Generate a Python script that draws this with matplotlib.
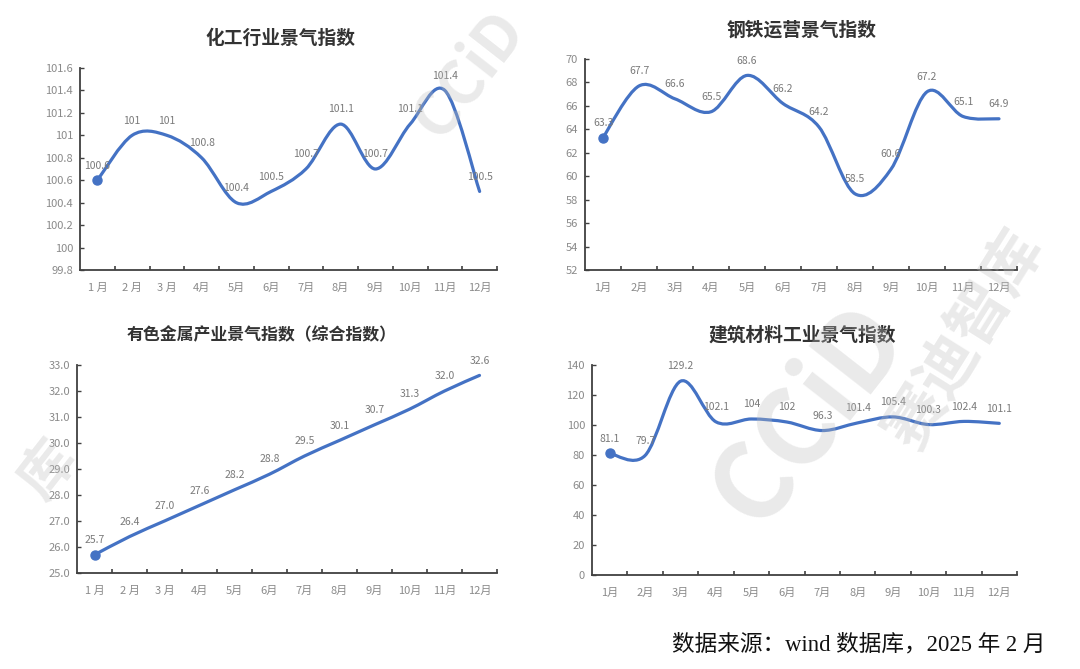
import matplotlib
matplotlib.use("Agg")
import matplotlib.pyplot as plt
from matplotlib.path import Path
from matplotlib.patches import PathPatch
import matplotlib.ticker as mticker

plt.rcParams['font.family'] = ['Noto Sans CJK SC', 'DejaVu Sans']

months_a = ["1 月", "2 月", "3 月", "4月", "5月", "6月", "7月", "8月", "9月", "10月", "11月", "12月"]
months_b = ["1月", "2月", "3月", "4月", "5月", "6月", "7月", "8月", "9月", "10月", "11月", "12月"]

chem_title = "化工行业景气指数"
chem_values = [100.6, 101, 101, 100.8, 100.4, 100.5, 100.7, 101.1, 100.7, 101.1, 101.4, 100.5]
chem_labels = ["100.6", "101", "101", "100.8", "100.4", "100.5", "100.7", "101.1", "100.7", "101.1", "101.4", "100.5"]
chem_yticks = [99.8, 100, 100.2, 100.4, 100.6, 100.8, 101, 101.2, 101.4, 101.6]
chem_yticklabels = ["99.8", "100", "100.2", "100.4", "100.6", "100.8", "101", "101.2", "101.4", "101.6"]

steel_title = "钢铁运营景气指数"
steel_values = [63.3, 67.7, 66.6, 65.5, 68.6, 66.2, 64.2, 58.5, 60.6, 67.2, 65.1, 64.9]
steel_labels = ["63.3", "67.7", "66.6", "65.5", "68.6", "66.2", "64.2", "58.5", "60.6", "67.2", "65.1", "64.9"]
steel_yticks = [52, 54, 56, 58, 60, 62, 64, 66, 68, 70]

metal_title = "有色金属产业景气指数（综合指数）"
metal_values = [25.7, 26.4, 27.0, 27.6, 28.2, 28.8, 29.5, 30.1, 30.7, 31.3, 32.0, 32.6]
metal_labels = ["25.7", "26.4", "27.0", "27.6", "28.2", "28.8", "29.5", "30.1", "30.7", "31.3", "32.0", "32.6"]
metal_yticks = [25.0, 26.0, 27.0, 28.0, 29.0, 30.0, 31.0, 32.0, 33.0]

build_title = "建筑材料工业景气指数"
build_values = [81.1, 79.7, 129.2, 102.1, 104, 102, 96.3, 101.4, 105.4, 100.3, 102.4, 101.1]
build_labels = ["81.1", "79.7", "129.2", "102.1", "104", "102", "96.3", "101.4", "105.4", "100.3", "102.4", "101.1"]
build_yticks = [0, 20, 40, 60, 80, 100, 120, 140]

source_text = "数据来源：wind 数据库，2025 年 2 月"

LINE = "#4472C4"
SPINE = "#404040"
TICKC = "#8a8a8a"
LABELC = "#7a7a7a"
TITLEC = "#333333"

W, H = 1080, 669
fig = plt.figure(figsize=(W / 100, H / 100), dpi=100)
fig.patch.set_facecolor("white")


def px_rect(x0, x1, ytop, ybot):
    return [x0 / W, (H - ybot) / H, (x1 - x0) / W, (ybot - ytop) / H]


def smooth_path(xs, ys):
    # Catmull-Rom style cubic Bezier smoothing (like spreadsheet "smooth line")
    n = len(xs)
    px = [xs[0]] + list(xs) + [xs[-1]]
    py = [ys[0]] + list(ys) + [ys[-1]]
    verts = [(xs[0], ys[0])]
    codes = [Path.MOVETO]
    for i in range(1, n):
        p0 = (px[i - 1], py[i - 1])
        p1 = (px[i], py[i])
        p2 = (px[i + 1], py[i + 1])
        p3 = (px[i + 2], py[i + 2])
        c1 = (p1[0] + (p2[0] - p0[0]) / 6, p1[1] + (p2[1] - p0[1]) / 6)
        c2 = (p2[0] - (p3[0] - p1[0]) / 6, p2[1] - (p3[1] - p1[1]) / 6)
        verts += [c1, c2, p2]
        codes += [Path.CURVE4] * 3
    return Path(verts, codes)


def draw(rect, values, labels, months, yticks, yticklabels, smooth=True):
    ax = fig.add_axes(rect)
    xs = [i + 0.5 for i in range(len(values))]
    if smooth:
        patch = PathPatch(smooth_path(xs, values), facecolor="none", edgecolor=LINE,
                          lw=2.3, capstyle="round", joinstyle="round", zorder=3)
        ax.add_patch(patch)
    else:
        ax.plot(xs, values, color=LINE, lw=2.3, solid_capstyle="round", zorder=3)
    ax.plot([xs[0]], [values[0]], "o", color=LINE, ms=6.5, zorder=4)
    for x, v, s in zip(xs, values, labels):
        ax.annotate(s, (x, v), xytext=(0, 7), textcoords="offset points",
                    ha="center", va="bottom", fontsize=7.5, color=LABELC, zorder=5)
    ax.set_xlim(0, len(values))
    ax.set_ylim(yticks[0], yticks[-1])
    ax.set_yticks(yticks)
    ax.set_yticklabels(yticklabels)
    ax.set_xticks(xs)
    ax.set_xticklabels(months)
    ax.xaxis.set_minor_locator(mticker.FixedLocator(list(range(1, len(values) + 1))))
    ax.tick_params(axis="x", which="major", length=0, pad=9, labelsize=8, labelcolor=TICKC)
    ax.tick_params(axis="x", which="minor", length=3, width=1.2, direction="in", color=SPINE)
    ax.tick_params(axis="y", which="major", length=3, width=1, direction="in", color=SPINE,
                   labelsize=8, labelcolor=TICKC, pad=5)
    for side in ("top", "right"):
        ax.spines[side].set_visible(False)
    for side in ("left", "bottom"):
        ax.spines[side].set_color(SPINE)
        ax.spines[side].set_linewidth(1.3)
    ax.set_facecolor("none")
    return ax


draw(px_rect(80, 497, 68, 270), chem_values, chem_labels, months_a, chem_yticks, chem_yticklabels)
draw(px_rect(585, 1017, 59, 270), steel_values, steel_labels, months_b, steel_yticks,
     [str(v) for v in steel_yticks])
draw(px_rect(77, 497, 365, 573), metal_values, metal_labels, months_a, metal_yticks,
     ["%.1f" % v for v in metal_yticks], smooth=True)
draw(px_rect(592, 1017, 365, 575), build_values, build_labels, months_b, build_yticks,
     [str(v) for v in build_yticks])

fig.text(280 / W, 1 - 38 / H, chem_title, ha="center", va="center", fontsize=13.5,
         fontweight="bold", color=TITLEC)
fig.text(802 / W, 1 - 30 / H, steel_title, ha="center", va="center", fontsize=13.5,
         fontweight="bold", color=TITLEC)
fig.text(262 / W, 1 - 335 / H, metal_title, ha="center", va="center", fontsize=12.2,
         fontweight="bold", color=TITLEC)
fig.text(802 / W, 1 - 335 / H, build_title, ha="center", va="center", fontsize=13.5,
         fontweight="bold", color=TITLEC)

fig.text(1045 / W, 1 - 645 / H, source_text, ha="right", va="center", fontsize=16.3,
         color="#111111", family=["Liberation Serif", "Noto Sans CJK SC"])

# watermarks (kept inside the canvas)
wm = dict(color="#bdbdbd", alpha=0.32, fontweight="bold", ha="center", va="center", zorder=10)
fig.text(470 / W, 1 - 75 / H, "CCiD", fontsize=44, rotation=52, **wm)
fig.text(810 / W, 1 - 415 / H, "CCiD", fontsize=76, rotation=52, **wm)
fig.text(965 / W, 1 - 340 / H, "赛迪智库", fontsize=44, rotation=58, **wm)
fig.text(48 / W, 1 - 470 / H, "库", fontsize=40, rotation=52, **wm)

fig.savefig("out.png", dpi=100, facecolor="white")
